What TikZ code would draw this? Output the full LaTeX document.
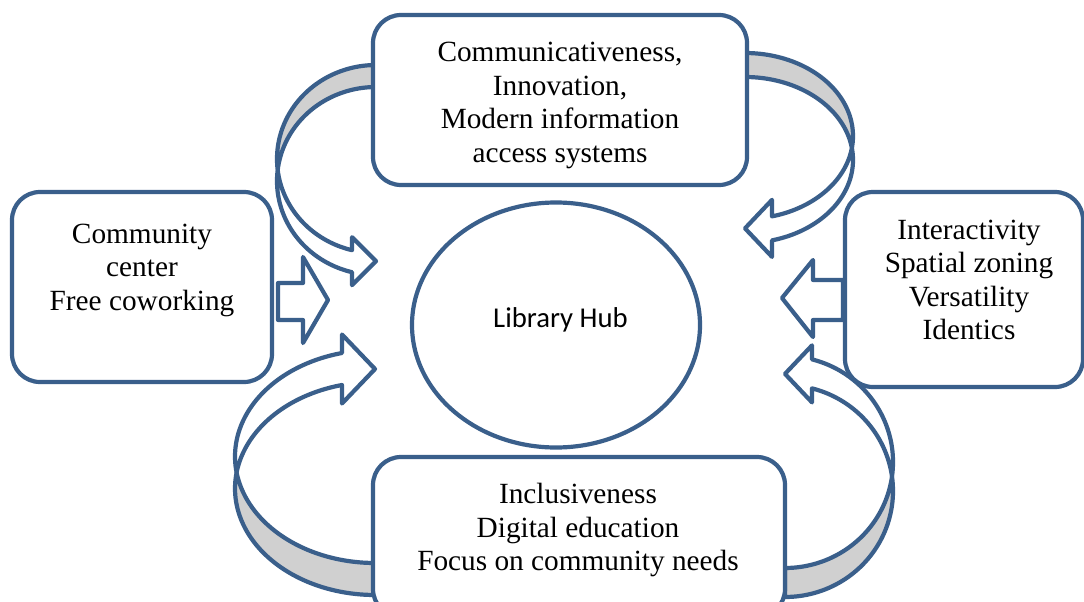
\documentclass[tikz,border=0pt]{standalone}
\usepackage{fontspec}
\setmainfont{Liberation Serif}
\newfontfamily\hubfont{Carlito}
\usetikzlibrary{shapes.geometric}
\definecolor{edgeblue}{RGB}{58,95,139}
\definecolor{backgray}{RGB}{208,208,208}
% curved block arrow in local coords: origin = outer end of the back band, y down
% #1 x radius, #2 y radius, #3 band thickness, #4 head length, #5 head half width
\newcommand\curvarr[5]{%
  \pgfmathsetmacro\cvA{asin(#3/(2*#2))}%
  \pgfmathsetmacro\cvB{acos(-#4/#1)}%
  \pgfmathsetmacro\cvMa{180-\cvA}%
  \pgfmathsetmacro\cvMb{180+\cvA}%
  \pgfmathsetmacro\cvM{#2+#3/2+#2*sin(\cvB)}%
  \filldraw[arrline, fill=backgray]
    plot[domain=270:\cvMa, samples=50, variable=\t] ({#1*cos(\t)},{#2+#2*sin(\t)})
    -- plot[domain=\cvMb:270, samples=50, variable=\t] ({#1*cos(\t)},{#2+#3+#2*sin(\t)})
    -- cycle;
  \filldraw[arrline, fill=white]
    plot[domain=\cvMb:\cvB, samples=60, variable=\t] ({#1*cos(\t)},{#2+#3+#2*sin(\t)})
    -- ({-#4},{\cvM+#5}) -- (0,{\cvM}) -- ({-#4},{\cvM-#5})
    -- plot[domain=\cvB:\cvMa, samples=60, variable=\t] ({#1*cos(\t)},{#2+#2*sin(\t)})
    -- cycle;
}
\begin{document}
\begin{tikzpicture}[x=1pt,y=-1pt,
  arrline/.style={draw=edgeblue, line width=4.2pt, line join=round},
  boxnode/.style={draw=edgeblue, line width=4.2pt, fill=white, rectangle,
    rounded corners=28pt, inner sep=0pt, outer sep=0pt},
  txt/.style={align=center, font=\fontsize{29.3}{33.5}\selectfont, inner sep=0pt}]
\useasboundingbox (0,0) rectangle (1084,602);
\fill[white] (0,0) rectangle (1084,602);

% curved arrows
\begin{scope}[shift={(376,65)}]
  \curvarr{99}{94}{22}{24}{24}
\end{scope}
\begin{scope}[shift={(745,53)}, xscale=-1]
  \curvarr{108}{83}{24}{27}{28.5}
\end{scope}
\begin{scope}[shift={(375,595)}, yscale=-1]
  \curvarr{140}{106.5}{32}{33}{34.5}
\end{scope}
\begin{scope}[shift={(785,597)}, xscale=-1, yscale=-1]
  \curvarr{108}{106}{29}{27}{28.5}
\end{scope}

% boxes
\node[boxnode, minimum width=374pt, minimum height=170pt] (topbox) at (560,100) {};
\node[boxnode, minimum width=260pt, minimum height=190pt] (leftbox) at (142,287) {};
\node[boxnode, minimum width=238pt, minimum height=195pt] (rightbox) at (964,289.5) {};
\node[boxnode, minimum width=412pt, minimum height=160pt] (botbox) at (579,537) {};

% straight block arrows
\filldraw[arrline, fill=white] (278,283) -- (303,283) -- (303,257) -- (328,300)
  -- (303,343) -- (303,320) -- (278,320) -- cycle;
\filldraw[arrline, fill=white] (782,298) -- (813,260) -- (813,280) -- (843,280)
  -- (843,320) -- (813,320) -- (813,337) -- cycle;

% hub
\node[ellipse, draw=edgeblue, line width=4.2pt, fill=white, inner sep=0pt,
  minimum width=288pt, minimum height=245pt] (hub) at (556,325) {};
\node[font=\hubfont\fontsize{28.7}{33}\selectfont, anchor=base, inner sep=0pt]
  (hubtext) at (560.5,327) {Library Hub};

% texts
\node[txt] (toptext) at (560,105.5) {Communicativeness,\\Innovation,\\Modern information\\access systems};
\node[txt] (lefttext) at (142,270) {Community\\center\\Free coworking};
\node[txt] (righttext) at (969,280) {Interactivity\\Spatial zoning\\Versatility\\Identics};
\node[txt] (bottext) at (578,530) {Inclusiveness\\Digital education\\Focus on community needs};
\end{tikzpicture}
\end{document}
